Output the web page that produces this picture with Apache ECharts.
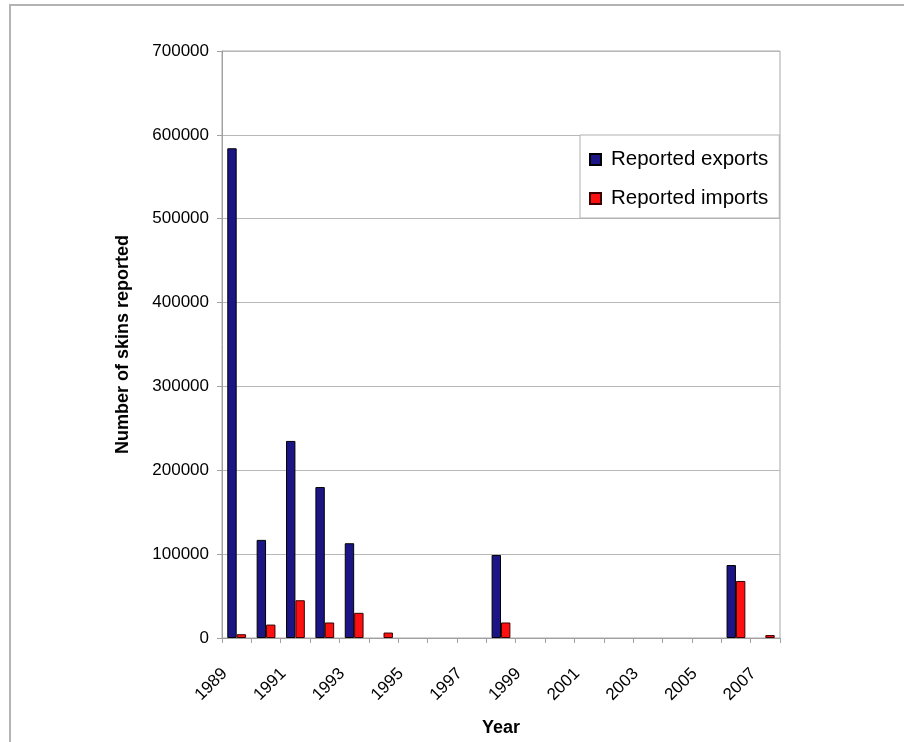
<!DOCTYPE html>
<html>
<head>
<meta charset="utf-8">
<script src="https://cdn.jsdelivr.net/npm/echarts@6/dist/echarts.min.js"></script>
<style>
  html, body { margin: 0; padding: 0; background: #fff; }
  #chart { position: absolute; left: 0; top: 0; width: 904px; height: 742px; }
  #frame { position: absolute; left: 9px; top: 4px; width: 895px; height: 738px;
           border-left: 2px solid #b4b4b4; border-top: 2px solid #b4b4b4; pointer-events: none; }
</style>
</head>
<body>
<div id="chart"></div>
<div id="frame"></div>
<script>
const years = ['1989','1990','1991','1992','1993','1994','1995','1996','1997','1998',
               '1999','2000','2001','2002','2003','2004','2005','2006','2007'];
const reportedExports = [584000, 117000, 235000, 180000, 113000, null, null, null, null, 99000,
                         null, null, null, null, null, null, null, 87000, null];
const reportedImports = [4500, 16000, 45000, 18500, 30000, 6500, null, null, null, 18500,
                         null, null, null, null, null, null, null, 68000, 3500];
const yTicks = { min: 0, max: 700000, interval: 100000 };

const font = 'Liberation Sans, Arial, Helvetica, sans-serif';
const chart = echarts.init(document.getElementById('chart'));
chart.setOption({
  animation: false,
  backgroundColor: '#fff',
  textStyle: { fontFamily: font, color: '#000' },
  grid: { left: 222, right: 124, top: 51, bottom: 101, show: true,
          borderColor: '#a8a8a8', borderWidth: 1, backgroundColor: 'transparent' },
  legend: {
    orient: 'vertical', left: 580, top: 135,
    padding: [14, 11, 9, 9],
    backgroundColor: '#fff', borderColor: '#b0b0b0', borderWidth: 1,
    itemWidth: 11, itemHeight: 11, itemGap: 18,
    icon: 'rect',
    textStyle: { fontFamily: font, fontSize: 20.5, color: '#000', padding: [0, 0, 0, 5] },
    data: ['Reported exports', 'Reported imports']
  },
  xAxis: {
    type: 'category', data: years, boundaryGap: true,
    name: 'Year', nameLocation: 'middle', nameGap: 81,
    nameTextStyle: { fontFamily: font, fontSize: 18, fontWeight: 'bold', color: '#000' },
    axisLine: { lineStyle: { color: '#a0a0a0', width: 1 } },
    axisTick: { show: true, interval: 0, length: 5, inside: false, lineStyle: { color: '#a0a0a0' } },
    axisLabel: { interval: 1, rotate: 45, margin: 21, fontSize: 17, color: '#000',
                 fontFamily: font, padding: [0, 17, 0, 0] },
    splitLine: { show: false }
  },
  yAxis: {
    type: 'value', min: yTicks.min, max: yTicks.max, interval: yTicks.interval,
    name: 'Number of skins reported', nameLocation: 'middle', nameGap: 90,
    nameTextStyle: { fontFamily: font, fontSize: 18, fontWeight: 'bold', color: '#000' },
    axisLine: { show: true, lineStyle: { color: '#a0a0a0', width: 1 } },
    axisTick: { show: true, length: 5, lineStyle: { color: '#a0a0a0' } },
    axisLabel: { fontSize: 17, color: '#000', margin: 13, fontFamily: font,
                 formatter: function (v) { return String(v); } },
    splitLine: { show: true, lineStyle: { color: '#b8b8b8', width: 1 } }
  },
  series: [
    { name: 'Reported exports', type: 'bar', data: reportedExports,
      barGap: '0%', barCategoryGap: '36%',
      itemStyle: { color: '#1c1585', borderColor: '#000', borderWidth: 1 } },
    { name: 'Reported imports', type: 'bar', data: reportedImports,
      barGap: '0%', barCategoryGap: '36%',
      itemStyle: { color: '#ff1010', borderColor: '#3a0000', borderWidth: 1 } }
  ]
});
</script>
</body>
</html>
